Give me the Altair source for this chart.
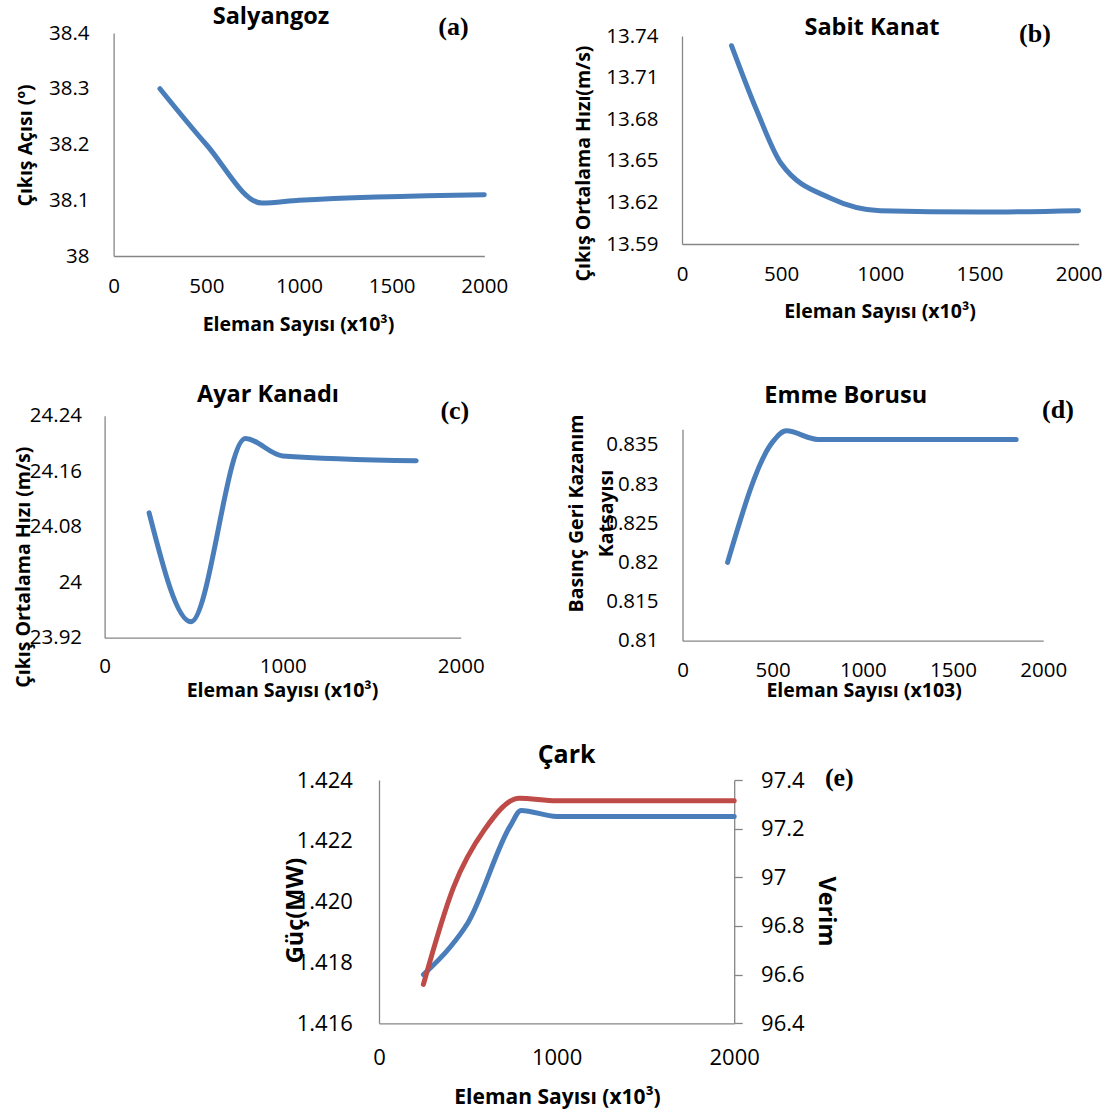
import altair as alt
import pandas as pd

FONT = "Open Sans"
TAG_FONT = "Liberation Serif"
BLUE = "#4A7EBB"
RED = "#BE4B48"
GRAY = "#868686"

X_TITLE = "Eleman Sayısı (x10³)"
X_TITLE_D = "Eleman Sayısı (x103)"

# (a) Salyangoz
a_x = [250, 500, 800, 1000, 2000]
a_y = [38.30, 38.20, 38.095, 38.10, 38.11]
a_yticks = [38.0, 38.1, 38.2, 38.3, 38.4]
a_xticks = [0, 500, 1000, 1500, 2000]

# (b) Sabit Kanat
b_x = [250, 375, 500, 750, 1000, 1500, 2000]
b_y = [13.733, 13.687, 13.648, 13.623, 13.614, 13.613, 13.614]
b_yticks = [13.59, 13.62, 13.65, 13.68, 13.71, 13.74]
b_xticks = [0, 500, 1000, 1500, 2000]

# (c) Ayar Kanadı
c_x = [250, 485, 790, 1000, 1750]
c_y = [24.10, 23.943, 24.207, 24.182, 24.175]
c_yticks = [23.92, 24.0, 24.08, 24.16, 24.24]
c_xticks = [0, 1000, 2000]

# (d) Emme Borusu
d_x = [250, 500, 575, 750, 1850]
d_y = [0.820, 0.8354, 0.8368, 0.8357, 0.8357]
d_yticks = [0.81, 0.815, 0.82, 0.825, 0.83, 0.835]
d_xticks = [0, 500, 1000, 1500, 2000]

# (e) Çark
e_x_guc = [250, 400, 500, 740, 800, 1000, 2000]
e_guc = [1.4176, 1.4185, 1.4193, 1.4225, 1.4230, 1.4228, 1.4228]
e_x_verim = [250, 420, 593, 790, 1000, 2000]
e_verim = [96.56, 96.96, 97.195, 97.325, 97.315, 97.315]
e_yticks_left = [1.416, 1.418, 1.42, 1.422, 1.424]
e_yticks_right = [96.4, 96.6, 96.8, 97.0, 97.2, 97.4]
e_xticks = [0, 1000, 2000]

titles = ["Salyangoz", "Sabit Kanat", "Ayar Kanadı", "Emme Borusu", "Çark"]
tags = ["(a)", "(b)", "(c)", "(d)", "(e)"]


def xaxis(values, offset, labpad, title, tx, ty, lab_size=20.5, title_size=19.5):
    return alt.Axis(values=values, format="d", title=title, grid=False, ticks=False, tickSize=0,
                    offset=offset,
                    domainColor=GRAY, domainWidth=1.3, labelFont=FONT, labelFontSize=lab_size,
                    labelColor="black", labelPadding=labpad, labelBaseline="middle",
                    labelFlush=False, labelOverlap=False,
                    titleFont=FONT, titleFontSize=title_size, titleFontWeight="bold",
                    titleColor="black", titleX=tx, titleY=ty, titleBaseline="middle",
                    titleAlign="center")


def yaxis(values, fmt, offset, labpad, title, tx, ty, lab_size=20.5, title_size=19.5,
          orient="left", ticks=False, angle=270, line_height=None):
    kw = dict(values=values, format=fmt, title=title, grid=False, orient=orient, offset=offset,
              ticks=ticks, tickSize=8 if ticks else 0, tickColor=GRAY, tickWidth=1.3,
              domainColor=GRAY, domainWidth=1.3, labelFont=FONT, labelFontSize=lab_size,
              labelColor="black", labelPadding=labpad, labelOverlap=False, labelFlush=False,
              titleFont=FONT, titleFontSize=title_size, titleFontWeight="bold",
              titleColor="black", titleX=tx, titleY=ty, titleAngle=angle,
              titleBaseline="middle", titleAlign="center")
    if line_height is not None:
        kw["titleLineHeight"] = line_height
    return alt.Axis(**kw)


def tag_layer(tag, px, py):
    return alt.Chart(pd.DataFrame({"tag": [tag]})).mark_text(
        font=TAG_FONT, fontSize=26, fontWeight="bold", align="center", baseline="middle",
        color="black").encode(text="tag:N", x=alt.value(px), y=alt.value(py))


def head(text, dx, dy, size=23.5):
    return alt.TitleParams(text=text, font=FONT, fontSize=size, fontWeight="bold", color="black",
                           anchor="middle", frame="group", dx=dx, dy=dy, offset=0)


def line_chart(xs, ys, color, xrange, xax, ydom, yrange, yax):
    df = pd.DataFrame({"x": xs, "y": ys})
    return alt.Chart(df).mark_line(interpolate="monotone", strokeWidth=5, color=color,
                                   strokeCap="round").encode(
        x=alt.X("x:Q", scale=alt.Scale(domain=[0, 2000], nice=False, zero=False, range=xrange),
                axis=xax),
        y=alt.Y("y:Q", scale=alt.Scale(domain=ydom, nice=False, zero=False, range=yrange),
                axis=yax))


# Each panel is a frame that holds its own axes, titles and tag.
# (a) frame 560 x 360 at (0, 0)
pa = alt.layer(
    line_chart(a_x, a_y, BLUE, [113.6, 484.3],
               xaxis(a_xticks, -104, 30, X_TITLE, 298, 68),
               [38.0, 38.4], [256, 33],
               yaxis(a_yticks, ".1~f", -113.6, 24.6, "Çıkış Açısı (º)", -88.6, 145)),
    tag_layer(tags[0], 453.5, 26.5),
).properties(width=560, height=360, title=head(titles[0], -9, 28))

# (b) frame 559 x 360 at (560, 0)
pb = alt.layer(
    line_chart(b_x, b_y, BLUE, [122, 518.6],
               xaxis(b_xticks, -116, 30, X_TITLE, 319.6, 67),
               [13.59, 13.74], [244, 36],
               yaxis(b_yticks, ".2f", -122, 24, "Çıkış Ortalama Hızı(m/s)", -99, 163)),
    tag_layer(tags[1], 475, 34),
).properties(width=559, height=360, title=head(titles[1], 32.5, 39.5))

# (c) frame 560 x 352 at (0, 360)
pc = alt.layer(
    line_chart(c_x, c_y, BLUE, [104.6, 460.7],
               xaxis(c_xticks, -74.3, 29, X_TITLE, 282, 53),
               [23.92, 24.24], [277.7, 55.7],
               yaxis(c_yticks, ".2~f", -104.6, 23, "Çıkış Ortalama Hızı (m/s)", -81.6, 206.7)),
    tag_layer(tags[2], 454.8, 51),
).properties(width=560, height=352, title=head(titles[2], -12, 46))

# (d) frame 559 x 352 at (560, 360)
pd_ = alt.layer(
    line_chart(d_x, d_y, BLUE, [122.5, 483.2],
               xaxis(d_xticks, -71.3, 30, X_TITLE_D, 303.6, 50),
               [0.81, 0.837], [280.7, 69.3],
               yaxis(d_yticks, ".3~f", -122.5, 24.5, ["Basınç Geri Kazanım", "Katsayısı"],
                     -106.5, 153, line_height=30)),
    tag_layer(tags[3], 498, 50),
).properties(width=559, height=352, title=head(titles[3], 6.2, 47.3))

# (e) frame 1119 x 407 at (0, 712)
e_xax = xaxis(e_xticks, -95.7, 33.7, X_TITLE, 557, 74, lab_size=22, title_size=21)
e_blue = line_chart(e_x_guc, e_guc, BLUE, [379, 734.2], e_xax, [1.416, 1.424], [311.3, 68],
                    yaxis(e_yticks_left, ".3f", -379, 26.7, "Güç(MW)", -84, 198,
                          lab_size=22, title_size=23.5))
e_red = line_chart(e_x_verim, e_verim, RED, [379, 734.2], e_xax, [96.4, 97.4], [311.3, 68],
                   yaxis(e_yticks_right, ".1~f", -384.8, 18.4, "Verim", 90.8, 199,
                         lab_size=22, title_size=23.5, orient="right", ticks=True, angle=90))
pe = alt.layer(e_blue, e_red, tag_layer(tags[4], 839.3, 65.5)).resolve_scale(
    y="independent").properties(width=1119, height=407, title=head(titles[4], 7.1, 56.3, size=25))

row1 = alt.hconcat(pa, pb, spacing=0)
row2 = alt.hconcat(pc, pd_, spacing=0)

chart = alt.vconcat(row1, row2, pe, spacing=0).properties(
    padding=0,
    background="white",
).configure_view(stroke=None)

chart.save("out.html", embed_options={"renderer": "svg", "actions": False})
